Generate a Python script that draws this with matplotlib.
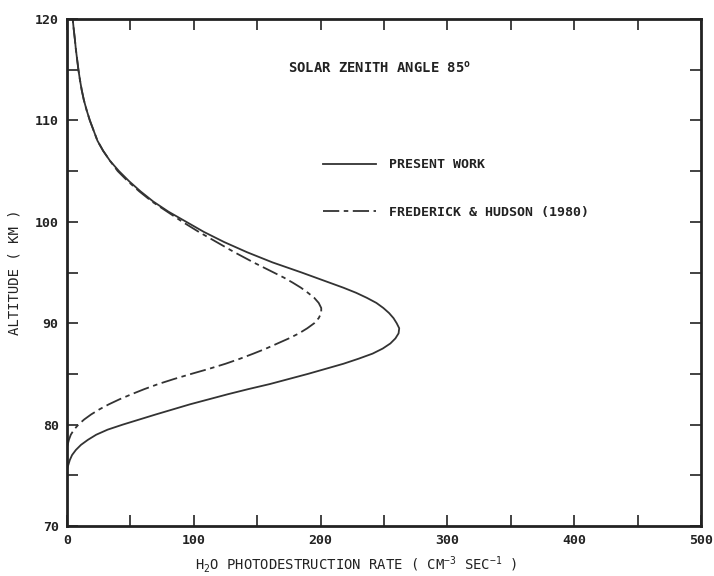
import matplotlib
matplotlib.use("Agg")
import matplotlib.pyplot as plt
from matplotlib.ticker import MultipleLocator

# Present work (solid): altitude (km) vs photodestruction rate
alt_present = [75.5, 75.75, 76, 76.5, 77, 77.5, 78, 78.5, 79, 79.5, 80, 80.5, 81, 81.5,
               82, 82.5, 83, 83.5, 84, 84.5, 85, 85.5, 86, 86.5, 87, 87.5, 88, 88.5,
               89, 89.5, 90, 90.5, 91, 91.5, 92, 92.5, 93, 93.5, 94, 94.5, 95, 95.5,
               96, 96.5, 97, 97.5, 98, 98.5, 99, 99.5, 100, 101, 102, 103, 104, 105,
               106, 107, 108, 109, 110, 111, 112, 113, 114, 115, 116, 117, 118, 119, 120]
rate_present = [0, 0.3, 1, 2.2, 4, 7, 11, 16.5, 23, 32, 44, 57, 70, 83.5,
                97, 112, 127, 143, 160, 175, 190, 204, 218, 230, 241, 249, 255, 259,
                261.5, 262, 260, 257.5, 254, 249.5, 244, 236.5, 228, 218, 207, 196, 185, 173.5,
                162, 152, 142, 133, 124, 116, 108, 101, 94, 80, 68, 58, 49, 41,
                34, 28.5, 24, 21, 18, 15.5, 13.3, 11.6, 10.2, 9, 8, 7, 6.2, 5.3, 4.5]

# Frederick & Hudson (1980) (dash-dot)
alt_fh = [77.8, 78, 78.5, 79, 79.5, 80, 80.5, 81, 81.5, 82, 82.5, 83, 83.5, 84, 84.5,
          85, 85.5, 86, 86.5, 87, 87.5, 88, 88.5, 89, 89.5, 90, 90.5, 91, 91.5,
          92, 92.5, 93, 93.5, 94, 94.5, 95, 95.5, 96, 96.5, 97, 97.5, 98, 98.5, 99,
          100, 101, 102, 103, 104, 105,
          106, 107, 108, 109, 110, 111, 112, 113, 114, 115, 116, 117, 118, 119, 120]
rate_fh = [0, 0.5, 1.5, 3, 5.5, 9, 13.5, 19, 25.5, 33, 41.5, 51, 61, 72, 84.5,
           98, 112, 125, 136.5, 147, 157, 166, 175, 183, 189.5, 195, 198.5, 200.5, 200.5,
           198.5, 195, 190, 184.5, 178, 171, 163, 155, 147, 139.5, 132, 125, 118, 111, 104,
           91, 79, 67, 57, 48, 40,
           34, 28.5, 24, 21, 18, 15.5, 13.3, 11.6, 10.2, 9, 8, 7, 6.2, 5.3, 4.5]

x_ticks = [0, 100, 200, 300, 400, 500]
y_ticks = [70, 80, 90, 100, 110, 120]

label_present = "PRESENT WORK"
label_fh = "FREDERICK & HUDSON (1980)"

font = "DejaVu Sans Mono"
plt.rcParams['font.family'] = [font]
plt.rcParams['font.weight'] = 'bold'

fig = plt.figure(figsize=(7.14, 5.76), dpi=100)
ax = fig.add_axes([67/714, 50/576, 634/714, 507/576])

ax.plot(rate_present, alt_present, color='#333333', lw=1.3, label=label_present)
ax.plot(rate_fh, alt_fh, color='#333333', lw=1.3, linestyle=(0, (9, 2.5, 2.5, 2.5)),
        label=label_fh)

ax.set_xlim(0, 500)
ax.set_ylim(70, 120)
ax.set_xticks(x_ticks)
ax.set_yticks(y_ticks)
ax.xaxis.set_minor_locator(MultipleLocator(50))
ax.yaxis.set_minor_locator(MultipleLocator(5))
ax.tick_params(which='both', direction='in', length=8, width=1.2, color='#222222',
               top=True, right=True, labelsize=9.5, pad=6)
for lab in ax.get_xticklabels() + ax.get_yticklabels():
    lab.set_fontweight('bold')
    lab.set_color('#222222')
for s in ax.spines.values():
    s.set_linewidth(2.0)
    s.set_color('#222222')

ax.set_xlabel(r"H$_\mathregular{2}$O PHOTODESTRUCTION RATE ( CM$^\mathregular{-3}$ SEC$^\mathregular{-1}$ )",
              fontsize=10, color='#222222')
ax.xaxis.set_label_coords((356-67)/634, -0.055)
ax.set_ylabel("ALTITUDE ( KM )", fontsize=10, color='#222222')
ax.yaxis.set_label_coords(-0.072, 0.5)

ax.text(0.349, 0.905, r"SOLAR ZENITH ANGLE 85$^\mathregular{o}$", transform=ax.transAxes,
        fontsize=10, color='#222222', va='center', ha='left')

leg = ax.legend(loc='upper left', bbox_to_anchor=(0.404, 0.725), frameon=False,
                borderpad=0, borderaxespad=0, handlelength=4.0, handletextpad=1.0,
                labelspacing=2.6, prop={'family': font, 'weight': 'bold', 'size': 9.5})
for t in leg.get_texts():
    t.set_color('#222222')

fig.savefig("out.png", dpi=100, facecolor='white')
